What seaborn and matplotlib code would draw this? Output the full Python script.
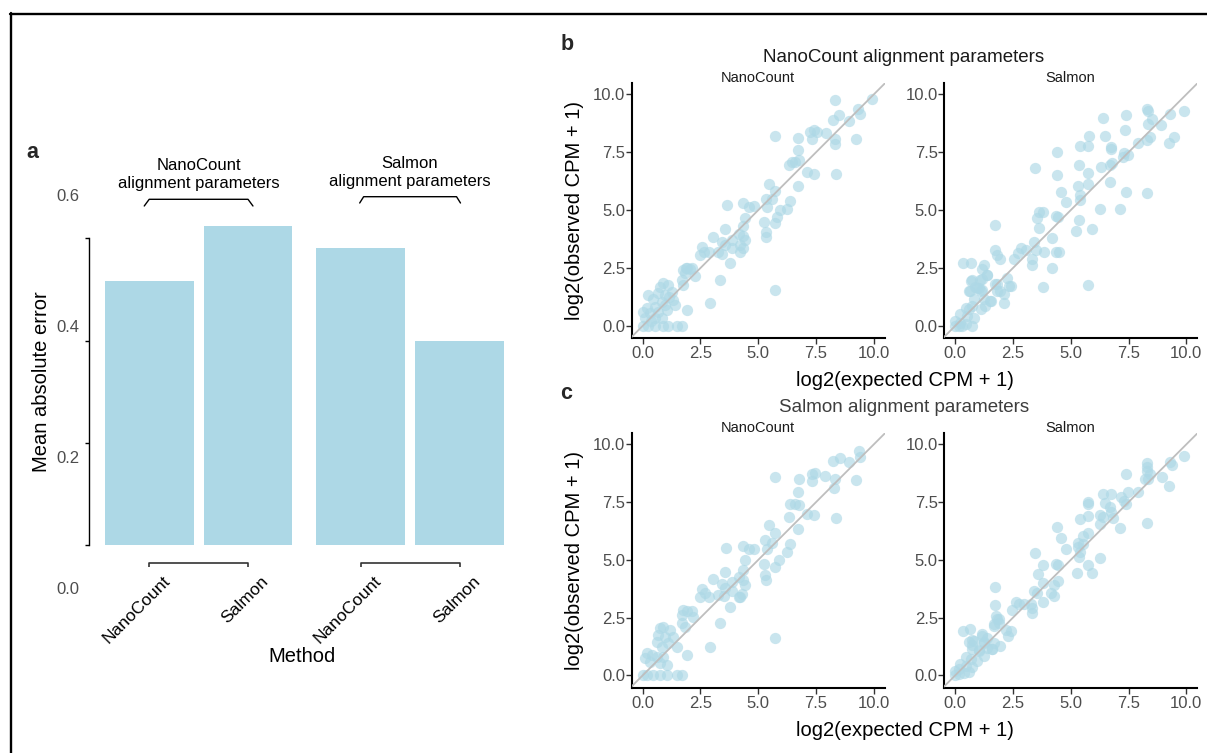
import matplotlib
matplotlib.use("Agg")
import matplotlib.pyplot as plt
import matplotlib.transforms as mtransforms
from matplotlib.lines import Line2D
import seaborn as sns

# ------------------------------------------------------------------ data
methods = ["NanoCount", "Salmon", "NanoCount", "Salmon"]
param_groups = ["NanoCount", "NanoCount", "Salmon", "Salmon"]
group_titles = ["NanoCount\nalignment parameters", "Salmon\nalignment parameters"]
mae = [0.517, 0.624, 0.581, 0.399]
a_ticks = [0.0, 0.2, 0.4, 0.6]
a_tick_labels = ["0.0", "0.2", "0.4", "0.6"]

sc_ticks = [0.0, 2.5, 5.0, 7.5, 10.0]
sc_tick_labels = ["0.0", "2.5", "5.0", "7.5", "10.0"]

# b: NanoCount alignment parameters, NanoCount
exp_b_nc = [9.93, 8.31, 9.31, 9.42, 8.51, 8.24, 8.92, 5.74, 6.71, 7.23, 7.40, 7.54, 7.33, 7.95, 8.31, 8.31,
            9.21, 6.71, 6.46, 6.60, 6.75, 6.32, 7.11, 7.40, 8.38, 6.71, 5.45, 5.74, 5.35, 5.59, 5.38, 6.39,
            6.24, 5.92, 5.81, 5.23, 5.74, 5.35, 5.35, 3.64, 4.36, 4.62, 4.83, 4.44, 4.36, 3.57, 4.15, 4.36,
            4.44, 4.22, 3.86, 3.42, 3.57, 3.06, 4.36, 4.22, 3.86, 3.28, 3.42, 2.56, 2.67, 2.49, 2.85, 3.79,
            1.88, 2.05, 1.84, 2.27, 2.12, 3.35, 5.74, 2.92, 1.91, 1.76,
            0.24, 0.89, 0.75, 1.11, 0.68, 0.97, 1.26, 1.33, 0.82, 0.53, 0.17, 0.03, 0.32, 0.68, 1.04, 1.40,
            0.10, 0.53, 0.82, 0.00, 0.24, 0.53, 0.89, 1.11, 1.47, 1.69, 1.76, 1.91, 1.69, 0.45, 1.15, 0.35,
            0.95]
obs_b_nc = [9.81, 9.74, 9.38, 9.17, 9.09, 8.91, 8.85, 8.19, 8.13, 8.38, 8.45, 8.38, 8.09, 8.33, 8.09, 7.84,
            8.09, 7.59, 7.08, 7.08, 7.16, 6.94, 6.65, 6.58, 6.55, 6.03, 6.15, 5.83, 5.50, 5.46, 5.14, 5.40,
            5.03, 5.00, 4.71, 4.50, 4.43, 4.07, 3.85, 5.22, 5.29, 5.14, 5.19, 4.64, 4.31, 4.17, 3.99, 3.88,
            3.71, 3.49, 3.71, 3.64, 3.49, 3.82, 3.35, 3.20, 3.35, 3.20, 3.10, 3.42, 3.20, 3.06, 3.20, 2.70,
            2.49, 2.44, 2.27, 2.16, 2.49, 1.98, 1.55, 0.98, 0.69, 1.77,
            1.34, 1.84, 1.69, 1.77, 1.41, 1.34, 1.48, 1.12, 1.05, 0.83, 0.76, 0.62, 0.55, 0.62, 0.69, 0.91,
            0.33, 0.33, 0.33, 0.00, 0.00, 0.00, 0.00, 0.00, 0.00, 0.00, 2.41, 2.50, 1.98, 1.15, 1.25, 0.20,
            0.90]

# b: NanoCount alignment parameters, Salmon
exp_b_sa = [9.88, 9.30, 8.28, 8.33, 7.41, 6.40, 8.50, 8.36, 8.90, 7.34, 6.47, 5.78, 9.45, 9.23, 8.43, 8.28,
            7.92, 5.41, 5.74, 6.72, 6.76, 4.39, 7.30, 7.49, 7.24, 6.69, 6.80, 6.32, 3.44, 5.35, 5.74, 4.39,
            6.69, 5.74, 5.31, 4.58, 7.41, 8.28, 5.41, 5.38, 4.80, 6.25, 7.12, 3.63, 3.78, 4.36, 4.43, 3.56,
            5.35, 5.23, 5.92, 3.63, 4.19, 3.42, 2.83, 3.05, 2.73, 3.49, 3.85, 4.36, 4.51, 3.34, 3.31, 2.54,
            1.72, 1.74, 1.82, 1.92, 4.19, 3.78, 5.74, 0.36, 0.70, 1.24, 1.16, 1.38, 0.73, 0.65, 1.16, 1.16,
            1.02, 0.87, 1.74, 1.96, 2.11, 2.11, 2.40, 2.25, 1.53, 1.31, 0.58,
            0.67, 1.07, 0.59, 0.96, 1.10, 0.81, 1.25, 1.54, 0.45, 0.74, 1.10, 0.23, 0.52, 0.81, 0.01, 0.23,
            0.00, 0.16, 0.45, 0.74, 0.30, 2.34, 1.83, 1.83, 1.40]
obs_b_sa = [9.28, 9.14, 9.36, 9.28, 9.10, 8.97, 8.92, 8.71, 8.67, 8.48, 8.19, 8.19, 8.14, 7.92, 8.14, 8.02,
            7.91, 7.78, 7.78, 7.74, 7.66, 7.52, 7.45, 7.39, 7.28, 6.95, 7.02, 6.88, 6.81, 6.95, 6.59, 6.53,
            6.23, 6.13, 6.05, 5.80, 5.80, 5.73, 5.67, 5.42, 5.34, 5.06, 5.06, 4.93, 4.93, 4.73, 4.71, 4.66,
            4.58, 4.08, 4.20, 4.23, 3.80, 3.61, 3.37, 3.27, 3.15, 3.27, 3.19, 3.19, 3.19, 2.87, 2.65, 2.87,
            4.37, 3.27, 3.08, 2.87, 2.51, 1.69, 1.75, 2.72, 2.72, 2.65, 2.46, 2.18, 1.98, 1.50, 2.01, 1.56,
            1.63, 1.70, 1.79, 1.50, 1.36, 1.00, 1.71, 2.06, 1.06, 0.85, 0.72,
            1.93, 2.00, 1.50, 1.65, 1.50, 1.15, 1.15, 1.07, 0.79, 0.86, 0.72, 0.50, 0.43, 0.36, 0.21, 0.14,
            0.00, 0.00, 0.07, 0.00, 0.00, 1.72, 1.79, 1.50, 2.22]

# c: Salmon alignment parameters, NanoCount
exp_c_nc = [9.35, 9.42, 8.24, 8.55, 8.92, 5.74, 6.75, 7.33, 7.47, 7.33, 7.90, 8.31, 8.29, 9.21, 6.71, 6.39,
            6.60, 6.75, 6.32, 7.11, 7.40, 8.38, 6.71, 5.45, 5.74, 5.30, 5.59, 5.38, 6.39, 6.24, 5.88, 5.23,
            5.74, 5.30, 5.35, 3.61, 4.34, 4.62, 4.80, 4.44, 4.34, 3.57, 4.15, 4.36, 4.44, 4.29, 3.86, 3.06,
            3.42, 3.57, 3.28, 3.50, 4.22, 4.15, 3.86, 2.56, 2.70, 2.49, 2.85, 3.79, 3.35, 1.76, 1.91, 1.69,
            2.12, 2.20, 1.84, 5.74, 2.92, 1.91,
            1.69, 0.75, 0.89, 1.18, 0.68, 0.97, 1.33, 0.61, 1.11, 0.82, 1.47, 0.17, 0.39, 0.10, 0.61, 0.89,
            0.32, 0.75, 1.04, 0.00, 0.17, 0.46, 0.75, 1.04, 1.47, 1.69]
obs_c_nc = [9.73, 9.47, 9.30, 9.41, 9.23, 8.57, 8.48, 8.71, 8.78, 8.42, 8.65, 8.51, 8.13, 8.46, 7.92, 7.42,
            7.40, 7.36, 6.87, 6.99, 6.93, 6.82, 6.34, 6.49, 6.16, 5.87, 5.72, 5.48, 5.70, 5.34, 4.98, 4.81,
            4.69, 4.33, 4.15, 5.52, 5.62, 5.48, 5.48, 4.98, 4.55, 4.48, 4.26, 4.12, 3.90, 3.54, 4.05, 4.16,
            3.96, 3.80, 3.49, 3.44, 3.40, 3.39, 3.66, 3.76, 3.55, 3.40, 3.40, 2.97, 2.28, 2.83, 2.81, 2.61,
            2.77, 2.51, 2.11, 1.61, 1.25, 0.89,
            2.25, 2.04, 2.11, 1.97, 1.75, 1.68, 1.68, 1.46, 1.39, 1.25, 1.25, 0.96, 0.89, 0.75, 0.79, 0.82,
            0.60, 0.53, 0.46, 0.00, 0.00, 0.00, 0.00, 0.00, 0.00, 0.00]

# c: Salmon alignment parameters, Salmon
exp_c_sa = [9.88, 9.30, 9.38, 8.28, 8.28, 8.28, 7.41, 8.43, 8.36, 8.21, 8.94, 9.23, 7.92, 7.49, 6.40, 6.76,
            7.19, 5.74, 5.74, 6.47, 7.30, 7.41, 6.69, 6.76, 6.25, 6.40, 5.74, 5.41, 6.83, 6.25, 7.12, 8.28,
            4.39, 4.58, 5.74, 5.52, 5.31, 5.31, 5.38, 5.35, 5.52, 4.80, 3.46, 6.25, 3.78, 4.36, 4.43, 5.74,
            5.93, 5.26, 3.60, 4.43, 4.29, 3.78, 1.74, 3.42, 3.56, 4.14, 4.29, 3.78, 2.62, 2.76, 2.98, 1.74,
            2.47, 3.34, 3.34, 3.27, 1.82, 1.89, 1.67, 2.18, 0.36, 0.65, 1.16, 0.73, 0.73, 1.24, 1.38, 1.02,
            1.24, 1.67, 1.96, 1.60,
            1.18, 1.68, 1.90, 0.59, 0.81, 1.25, 0.74, 1.03, 1.40, 1.61, 0.45, 0.67, 0.96, 0.23, 0.45, 0.74,
            0.01, 0.16, 0.00, 0.16, 0.38, 0.59, 1.76, 2.27, 2.41]
obs_c_sa = [9.48, 9.24, 9.10, 9.20, 9.02, 8.84, 8.71, 8.71, 8.48, 8.48, 8.59, 8.19, 7.95, 7.95, 7.87, 7.84,
            7.73, 7.51, 7.41, 7.47, 7.56, 7.41, 7.30, 7.08, 6.94, 6.87, 6.90, 6.75, 6.80, 6.55, 6.36, 6.61,
            6.41, 5.96, 6.18, 6.03, 5.75, 5.57, 5.36, 5.14, 5.69, 5.46, 5.32, 5.07, 4.78, 4.83, 4.78, 4.78,
            4.43, 4.43, 4.40, 4.07, 3.92, 4.00, 3.82, 3.64, 3.56, 3.56, 3.42, 3.20, 3.20, 3.10, 3.10, 3.06,
            2.84, 2.92, 2.70, 3.10, 2.44, 2.27, 2.13, 1.95, 1.91, 2.01, 1.70, 1.55, 1.34, 1.41, 1.62, 1.12,
            0.83, 1.41, 1.26, 1.15,
            1.78, 2.21, 2.43, 1.43, 1.50, 1.43, 1.14, 1.07, 1.21, 1.14, 0.78, 0.71, 0.63, 0.49, 0.42, 0.35,
            0.20, 0.28, 0.00, 0.06, 0.10, 0.17, 2.57, 1.71, 1.93]

# ------------------------------------------------------------------ style
sns.set_theme(style="white")
plt.rcParams["font.family"] = ["Liberation Sans", "DejaVu Sans"]

W, H = 1207, 753
fig = plt.figure(figsize=(W / 100, H / 100), dpi=100)

BLUE = "#ADD8E6"
GREY_TXT = "#4d4d4d"


def rect(l, t, r, b):
    return [l / W, 1 - b / H, (r - l) / W, (b - t) / H]


def ftxt(x, y, s, **kw):
    fig.text(x / W, 1 - y / H, s, **kw)


# figure frame (top + left rule)
fig.add_artist(Line2D([10 / W, 1], [1 - 13.8 / H] * 2, transform=fig.transFigure,
                      color="black", lw=1.7))
fig.add_artist(Line2D([11 / W] * 2, [0, 1 - 12.8 / H], transform=fig.transFigure,
                      color="black", lw=1.7))

# ------------------------------------------------------------------ panel a
A_TOP, A_BOT = 212.9, 545.0
axA = fig.add_axes(rect(89.3, A_TOP, 510, A_BOT))
group_names = list(dict.fromkeys(param_groups))
bar_x = [i + 0.14 * group_names.index(g) for i, g in enumerate(param_groups)]
sns.barplot(x=bar_x, y=mae, native_scale=True, width=0.9, color=BLUE, saturation=1,
            errorbar=None, linewidth=0, ax=axA)
axA.set_xlim(-0.606, 3.651)
axA.set_ylim(0, 0.65)
for s in ["top", "right", "bottom"]:
    axA.spines[s].set_visible(False)
axA.spines["left"].set_bounds(0, 0.6)
axA.spines["left"].set_color("black")
axA.spines["left"].set_linewidth(1.0)
axA.set_yticks(a_ticks)
axA.set_yticklabels([""] * len(a_ticks))
axA.tick_params(axis="y", length=3.2, width=1.0, color="black", left=True)
axA.set_xticks(bar_x)
axA.set_xticklabels(methods)
axA.tick_params(axis="x", length=0, pad=20.5, labelsize=12.5, labelcolor="black")
off = mtransforms.ScaledTranslation(13 / 100, 0, fig.dpi_scale_trans)
for lab in axA.get_xticklabels():
    lab.set_rotation(45)
    lab.set_ha("right")
    lab.set_va("top")
    lab.set_rotation_mode("anchor")
    lab.set_transform(lab.get_transform() + off)
axA.set_xlabel("")
axA.set_ylabel("")


def ay(py):
    return (A_BOT - py) / (A_BOT - A_TOP)


trA = mtransforms.blended_transform_factory(axA.transData, axA.transAxes)
# brackets below the method labels and above the groups
for gi, g in enumerate(group_names):
    xs = [bx for bx, pg in zip(bar_x, param_groups) if pg == g]
    x0, x1 = min(xs), max(xs)
    axA.plot([x0, x0, x1, x1], [ay(566.7), ay(563.3), ay(563.3), ay(566.7)], transform=trA,
             color="#333333", lw=1.2, clip_on=False, solid_capstyle="butt")
    mid = (x0 + x1) / 2
    yh = ay(199.3 - 2.6 * gi)
    ye = ay(206.0 - 3.0 * gi)
    axA.plot([mid - 0.55 + 0.04 * gi, mid - 0.5 + 0.03 * gi, mid + 0.5 - 0.03 * gi, mid + 0.55 - 0.04 * gi],
             [ye, yh, yh, ye], transform=trA, color="black", lw=1.0, clip_on=False)
    axA.text(mid, ay(174.5 - 2 * gi), group_titles[gi], transform=trA, ha="center", va="center",
             fontsize=12, color="black", linespacing=1.25)

# tick-label overlay (labels sit on their own scale as in the reference)
axL = fig.add_axes(rect(89.3, 195, 120, 587.7))
axL.set_ylim(0, 0.6)
axL.set_yticks(a_ticks)
axL.set_yticklabels(a_tick_labels)
axL.set_xticks([])
axL.tick_params(axis="y", length=0, pad=7.0, labelsize=12, labelcolor=GREY_TXT)
axL.patch.set_visible(False)
for s in axL.spines.values():
    s.set_visible(False)

ftxt(42, 382, "Mean absolute error", rotation=90, ha="center", va="center", fontsize=14.5, color="black")
ftxt(301.5, 656, "Method", ha="center", va="center", fontsize=14.5, color="black")
ftxt(32.5, 158.3, "a", ha="center", va="baseline", fontsize=15.5, fontweight="bold")

# ------------------------------------------------------------------ panels b, c
panels = [
    (rect(631.5, 83, 884.5, 338), exp_b_nc, obs_b_nc, "NanoCount", 78.5),
    (rect(944, 83, 1197, 338), exp_b_sa, obs_b_sa, "Salmon", 78.5),
    (rect(631.5, 433, 884.5, 687.5), exp_c_nc, obs_c_nc, "NanoCount", 427.5),
    (rect(944, 433, 1197, 687.5), exp_c_sa, obs_c_sa, "Salmon", 427.5),
]
for r, xs, ys, strip, sy in panels:
    ax = fig.add_axes(r)
    sns.scatterplot(x=xs, y=ys, s=66, color=BLUE, alpha=0.65, linewidth=0, ax=ax, zorder=2)
    ax.axline((0, 0), (1, 1), color="#bebebe", lw=1.3, zorder=3)
    ax.set_xlim(-0.48, 10.46)
    ax.set_ylim(-0.52, 10.49)
    ax.set_xticks(sc_ticks)
    ax.set_xticklabels(sc_tick_labels)
    ax.set_yticks(sc_ticks)
    ax.set_yticklabels(sc_tick_labels)
    for s in ["top", "right"]:
        ax.spines[s].set_visible(False)
    for s in ["left", "bottom"]:
        ax.spines[s].set_color("black")
        ax.spines[s].set_linewidth(1.5)
    ax.tick_params(axis="both", length=4, width=1.0, color="#333333", labelsize=12,
                   labelcolor=GREY_TXT, left=True, bottom=True)
    ax.tick_params(axis="y", pad=0.5)
    ax.tick_params(axis="x", pad=2)
    ax.set_xlabel("")
    ax.set_ylabel("")
    cx = (r[0] + r[2] / 2) * W
    ftxt(cx, sy, strip, ha="center", va="center", fontsize=10.5, color="#1a1a1a")

ftxt(904, 57, "NanoCount alignment parameters", ha="center", va="center", fontsize=13.5, color="#1a1a1a")
ftxt(904, 408, "Salmon alignment parameters", ha="center", va="center", fontsize=13.5, color="#3d3d3d")
ftxt(905, 381, "log2(expected CPM + 1)", ha="center", va="center", fontsize=14.5, color="black")
ftxt(905, 731, "log2(expected CPM + 1)", ha="center", va="center", fontsize=14.5, color="black")
ftxt(575, 210, "log2(observed CPM + 1)", rotation=90, ha="center", va="center", fontsize=14.5, color="black")
ftxt(574, 560, "log2(observed CPM + 1)", rotation=90, ha="center", va="center", fontsize=14.5, color="black")
ftxt(567, 50, "b", ha="center", va="baseline", fontsize=15.5, fontweight="bold")
ftxt(566, 399, "c", ha="center", va="baseline", fontsize=15.5, fontweight="bold")

fig.savefig("out.png", dpi=100)
